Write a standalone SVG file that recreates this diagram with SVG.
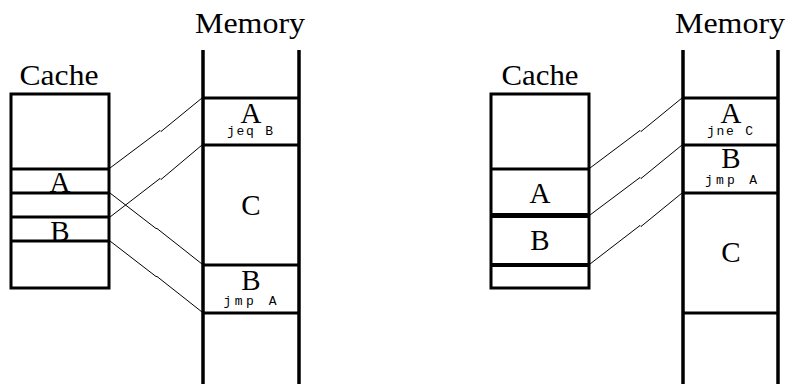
<svg xmlns="http://www.w3.org/2000/svg" width="788" height="384" viewBox="0 0 788 384">
<style>
.bg{fill:#ffffff}
.box{fill:none;stroke:#000;stroke-width:3}
.wall{fill:none;stroke:#000;stroke-width:3.5}
.sep{fill:none;stroke:#000;stroke-width:3}
.thick{fill:none;stroke:#000;stroke-width:5}
.conn{fill:none;stroke:#000;stroke-width:1}
.lbl{font-family:"Liberation Serif","DejaVu Serif",serif;font-size:29px;fill:#000;text-anchor:middle}
.big{font-family:"Liberation Serif","DejaVu Serif",serif;font-size:29px;fill:#000;text-anchor:middle}
.code{font-family:"Liberation Mono","DejaVu Sans Mono",monospace;font-size:13px;fill:#000;text-anchor:middle}
</style>
<rect class="bg" x="0" y="0" width="788" height="384"/>

<g id="left-cache">
  <text class="big" x="59" y="85" textLength="79" lengthAdjust="spacingAndGlyphs">Cache</text>
  <rect class="box" x="11" y="94" width="98" height="194"/>
  <line class="sep" x1="11" y1="169" x2="109" y2="169"/>
  <line class="sep" x1="11" y1="193" x2="109" y2="193"/>
  <line class="sep" x1="11" y1="217" x2="109" y2="217"/>
  <line class="sep" x1="11" y1="241" x2="109" y2="241"/>
  <text class="lbl" x="60" y="192">A</text>
  <text class="lbl" x="60" y="241">B</text>
</g>

<g id="left-memory">
  <text class="big" x="250" y="33" textLength="110" lengthAdjust="spacingAndGlyphs">Memory</text>
  <line class="wall" x1="203" y1="50" x2="203" y2="384"/>
  <line class="wall" x1="299" y1="50" x2="299" y2="384"/>
  <line class="sep" x1="203" y1="98" x2="299" y2="98"/>
  <line class="sep" x1="203" y1="145" x2="299" y2="145"/>
  <line class="sep" x1="203" y1="265" x2="299" y2="265"/>
  <line class="sep" x1="203" y1="313" x2="299" y2="313"/>
  <text class="lbl" x="251" y="123">A</text>
  <text class="code" x="250" y="135" textLength="46" lengthAdjust="spacing">jeq B</text>
  <text class="lbl" x="251" y="215">C</text>
  <text class="lbl" x="251" y="290">B</text>
  <text class="code" x="250" y="305" textLength="53" lengthAdjust="spacing">jmp A</text>
</g>

<g id="right-cache">
  <text class="big" x="540" y="85" textLength="77" lengthAdjust="spacingAndGlyphs">Cache</text>
  <rect class="box" x="491" y="94" width="98" height="194"/>
  <line class="sep" x1="491" y1="169" x2="589" y2="169"/>
  <line class="thick" x1="491" y1="215.5" x2="589" y2="215.5"/>
  <line class="sep" x1="491" y1="265" x2="589" y2="265" style="stroke-width:4"/>
  <text class="lbl" x="540" y="203">A</text>
  <text class="lbl" x="540" y="250">B</text>
</g>

<g id="right-memory">
  <text class="big" x="730" y="33" textLength="110" lengthAdjust="spacingAndGlyphs">Memory</text>
  <line class="wall" x1="683" y1="50" x2="683" y2="384"/>
  <line class="wall" x1="778" y1="50" x2="778" y2="384"/>
  <line class="sep" x1="683" y1="98" x2="778" y2="98"/>
  <line class="sep" x1="683" y1="145" x2="778" y2="145"/>
  <line class="sep" x1="683" y1="193" x2="778" y2="193"/>
  <line class="sep" x1="683" y1="313" x2="778" y2="313"/>
  <text class="lbl" x="731" y="123">A</text>
  <text class="code" x="730" y="135" textLength="46" lengthAdjust="spacing">jne C</text>
  <text class="lbl" x="731" y="168">B</text>
  <text class="code" x="731" y="184" textLength="52" lengthAdjust="spacing">jmp A</text>
  <text class="lbl" x="731" y="262">C</text>
</g>

<g id="connectors">
  <polyline class="conn" points="110,168 160,130.5 161,131.5 202,98"/>
  <polyline class="conn" points="110,193 156,228.5 157,228.5 202,264"/>
  <polyline class="conn" points="110,217 160,178.5 161,179.5 202,145"/>
  <polyline class="conn" points="110,241 156,276.5 157,276.5 202,312"/>
  <polyline class="conn" points="590,168 640,130.5 641,131.5 682,98"/>
  <polyline class="conn" points="590,215 640,177.5 641,178.5 682,145"/>
  <polyline class="conn" points="590,264 640,225.5 641,226.5 682,193"/>
</g>
</svg>
